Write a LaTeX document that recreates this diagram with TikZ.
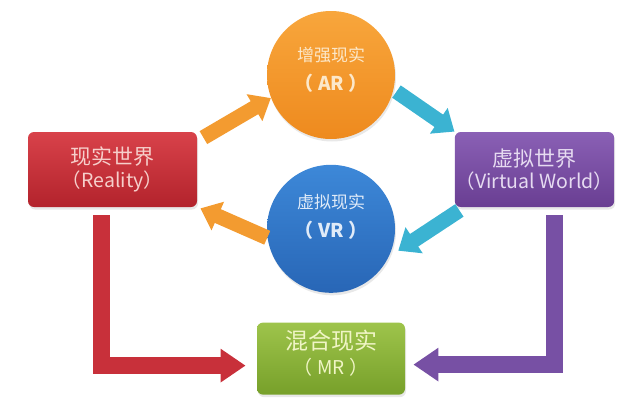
\documentclass[tikz,border=0pt]{standalone}
\usepackage{fontspec}
\setmainfont{Noto Sans CJK SC}
\usetikzlibrary{positioning,arrows.meta,shadows}

\definecolor{redhi}{HTML}{D8424A}
\definecolor{redlo}{HTML}{B3232C}
\definecolor{redtxt}{HTML}{F6CFCB}
\definecolor{purhi}{HTML}{8A60B5}
\definecolor{purlo}{HTML}{693E92}
\definecolor{purtxt}{HTML}{E6DBF1}
\definecolor{grnhi}{HTML}{9EC44B}
\definecolor{grnlo}{HTML}{77A02A}
\definecolor{grntxt}{HTML}{F0F5C6}
\definecolor{arhi}{HTML}{F8A63C}
\definecolor{arlo}{HTML}{EE8A1E}
\definecolor{artxt}{HTML}{FCE8CA}
\definecolor{vrhi}{HTML}{3D88D8}
\definecolor{vrlo}{HTML}{2866B6}
\definecolor{vrtxt}{HTML}{E0EBF8}
\definecolor{arrorange}{HTML}{F39B30}
\definecolor{arrcyan}{HTML}{3BB3D2}
\definecolor{arrred}{HTML}{C8303A}
\definecolor{arrpurple}{HTML}{7750A4}

\newcommand{\boxhead}{\fontsize{21}{26}\selectfont}
\newcommand{\boxsub}{\fontsize{19.5}{26}\selectfont}
\newcommand{\ballhead}{\fontsize{17}{30}\selectfont}
\newcommand{\ballsub}{\fontsize{19}{30}\selectfont\bfseries}
\newcommand{\pad}[1]{（\kern5pt #1\kern5pt）}

\begin{document}
\begin{tikzpicture}[x=1pt, y=-1pt, thick,
		world/.style={rounded corners=6pt, minimum height=75pt, inner xsep=1pt, align=center, drop shadow={opacity=0.18, shadow xshift=1pt, shadow yshift=-2.5pt}},
		ball/.style={circle, minimum size=128pt, inner sep=0pt, align=center, drop shadow={opacity=0.18, shadow xshift=1pt, shadow yshift=-2.5pt}},
		fat/.style={line width=15pt, -{Triangle[length=19pt, width=30pt]}},
		elbow/.style={line width=17pt, line join=miter, -{Triangle[length=25pt, width=32pt]}}]
	\useasboundingbox (0,0) rectangle (640,407);

	\node[ball, top color=arhi, bottom color=arlo, text=artxt] (ar) at (331,75) {\ballhead 增强现实\\[10pt] \ballsub \pad{AR}\rule[-12pt]{0pt}{1pt}};
	\node[ball, top color=vrhi, bottom color=vrlo, text=vrtxt] (vr) [below=25pt of ar] {\ballhead 虚拟现实\\[10pt] \ballsub \pad{VR}\rule[-26pt]{0pt}{1pt}};
	\node[world, minimum width=169pt, top color=redhi, bottom color=redlo, text=redtxt] (real) at (112.5,169.5) {\boxhead 现实世界\\[3pt] \boxsub （Reality）};
	\node[world, minimum width=155pt, top color=purhi, bottom color=purlo, text=purtxt] (virt) at (534.5,169.5) {\boxhead 虚拟世界\\[3pt] \boxsub （Virtual World）};
	\node[world, minimum width=148pt, minimum height=72pt, top color=grnhi, bottom color=grnlo, text=grntxt] (mr) [below=29pt of vr] {\fontsize{23}{28}\selectfont 混合现实\\[6pt] \fontsize{19}{28}\selectfont \pad{MR}\rule[-12pt]{0pt}{1pt}};

	\draw[fat, arrorange] ([shift={(6,6)}]real.north east) -- (ar.201);
	\draw[fat, arrcyan] ([shift={(3,1)}]ar.-14) -- (virt.north west);
	\draw[fat, arrorange] (vr.188) -- ([shift={(3,1)}]real.south east);
	\draw[fat, arrcyan] ([shift={(5,3)}]virt.south west) -- ([shift={(6,2)}]vr.-18);

	\draw[elbow, arrred] ([shift={(-11,8)}]real.south) |- ([shift={(-11,7)}]mr.west);
	\draw[elbow, arrpurple] ([shift={(20,8)}]virt.south) |- ([shift={(8,6)}]mr.east);
\end{tikzpicture}
\end{document}
